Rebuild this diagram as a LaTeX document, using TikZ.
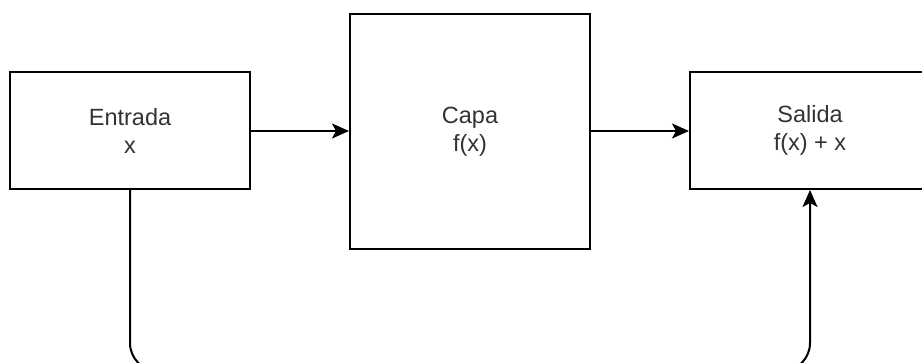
\documentclass[tikz,border=0pt]{standalone}
\usepackage{fontspec}
\setmainfont{Liberation Sans}
\usetikzlibrary{arrows.meta}
\definecolor{txt}{HTML}{333333}
\begin{document}
\begin{tikzpicture}[x=1pt,y=-1pt,
  blk/.style={draw=black,line width=2pt,minimum width=#1,inner sep=0pt,align=center,font=\fontsize{23.5}{28}\selectfont,text=txt},
  conn/.style={line width=2pt,-{Stealth[length=17pt,width=15pt,inset=4pt]}}]
\clip (0,0) rectangle (922,363);
\node[blk=240pt,minimum height=117pt] (in) at (130,130.5) {Entrada\\x};
\node[blk=240pt,minimum height=235pt] (capa) at (470,131.5) {Capa\\f(x)};
\node[blk=240pt,minimum height=117pt] (out) at (810,130.5) {Salida\\f(x) + x};
\coordinate (c1) at (130,371);
\coordinate (c2) at (810,371);
\draw[conn] (in.east |- 0,131) -- (capa.west |- 0,131);
\draw[conn] (capa.east |- 0,131) -- (out.west |- 0,131);
\draw[conn,rounded corners=28pt] (in.south) -- (c1) -- (c2) -- (out.south);
\end{tikzpicture}
\end{document}
